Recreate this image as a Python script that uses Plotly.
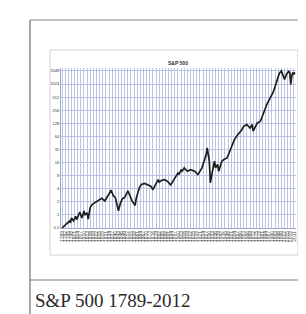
import plotly.graph_objects as go

years = [1789, 1792, 1794, 1796, 1797, 1798, 1800, 1802, 1803, 1805, 1806, 1808, 1810, 1811,
         1813, 1814, 1816, 1818, 1821, 1824, 1827, 1830, 1833, 1836, 1838, 1840, 1843, 1845,
         1847, 1849, 1852, 1854, 1856, 1859, 1860, 1863, 1865, 1868, 1871, 1874, 1876, 1878,
         1881, 1882, 1884, 1887, 1890, 1893, 1895, 1897, 1900, 1901, 1903, 1904, 1906, 1909,
         1912, 1916, 1919, 1920, 1923, 1927, 1928, 1930, 1931, 1933, 1935, 1936, 1938, 1939,
         1941, 1942, 1944, 1947, 1949, 1952, 1954, 1957, 1961, 1963, 1966, 1969, 1971, 1972,
         1974, 1976, 1979, 1982, 1985, 1988, 1991, 1993, 1995, 1997, 1999, 2001, 2002, 2004,
         2006, 2007, 2008, 2009, 2010, 2011, 2012]
sp500 = [0.50, 0.58, 0.62, 0.72, 0.66, 0.85, 0.73, 0.93, 0.78, 1.0, 1.17, 0.85, 1.23, 1.01,
         1.11, 0.80, 1.50, 1.75, 1.95, 2.2, 2.4, 2.1, 2.9, 3.7, 2.8, 2.5, 1.25, 1.9,
         2.4, 2.5, 3.6, 2.7, 2.1, 1.65, 2.4, 4.2, 5.0, 5.3, 5.0, 4.6, 3.8, 4.6,
         6.5, 5.7, 6.2, 6.5, 5.9, 4.9, 5.9, 7.1, 9.2, 8.5, 11.0, 10.1, 12.1, 10.1,
         11.0, 10.1, 8.5, 9.2, 12.1, 24.5, 34.8, 17.2, 5.5, 10.1, 17.2, 12.1, 14.4, 10.1,
         14.4, 17.2, 18.8, 20.5, 27, 42, 54, 69, 90, 110, 120, 100, 120, 85,
         110, 131, 143, 223, 347, 480, 650, 900, 1300, 1800, 2050, 1600, 1300, 1750,
         2000, 1850, 1000, 1600, 1900, 1750, 1900]

y_ticks = [0.5, 1, 2, 4, 8, 16, 32, 64, 128, 256, 512, 1024, 2048]
y_tick_labels = ["0.5", "1", "2", "4", "8", "16", "32", "64", "128", "256", "512", "1024", "2048"]
x_ticks = list(range(1789, 2013, 3))
x_tick_labels = [str(y) for y in x_ticks]

chart_title = "S&P 500"
caption = "S&P 500 1789-2012"

fig = go.Figure()
fig.add_trace(go.Scatter(x=years, y=sp500, mode="lines",
                         line=dict(color="#1e1e1e", width=1.7), showlegend=False,
                         hoverinfo="skip"))

fig.update_layout(
    width=306, height=314,
    margin=dict(l=53, r=18, t=60, b=94),
    paper_bgcolor="white", plot_bgcolor="white",
    xaxis=dict(range=[1788, 2013], tickmode="array", tickvals=x_ticks, ticktext=x_tick_labels,
               tickangle=-90, tickfont=dict(size=5, color="#555", family="Arial"),
               showgrid=True, gridcolor="#b9c5e2", gridwidth=1, zeroline=False,
               showline=True, linecolor="#9aa6c6", linewidth=1, ticks=""),
    yaxis=dict(type="log", range=[-0.30103, 3.38], tickmode="array", tickvals=y_ticks,
               ticktext=y_tick_labels, tickfont=dict(size=4, color="#333", family="Arial"),
               showgrid=True, gridcolor="#b9c5e2", gridwidth=1, zeroline=False,
               showline=True, linecolor="#9aa6c6", linewidth=1, ticks=""),
    annotations=[
        dict(text="<b>" + chart_title + "</b>", x=0.498, y=1.0625, xref="paper", yref="paper",
             showarrow=False, font=dict(size=5, color="#333", family="Arial")),
        dict(text=caption, x=-0.119, y=-0.456, xref="paper", yref="paper",
             xanchor="left", yanchor="middle", showarrow=False,
             font=dict(size=19, color="#2a2a2a", family="Liberation Serif")),
    ],
    shapes=[
        # outer frame
        dict(type="line", xref="paper", yref="paper", x0=-0.132, x1=1.08, y0=1.3, y1=1.3,
             line=dict(color="#8a8a8a", width=1.2)),
        dict(type="line", xref="paper", yref="paper", x0=-0.132, x1=-0.132, y0=1.3, y1=-0.6,
             line=dict(color="#6e6e6e", width=1.2)),
        dict(type="line", xref="paper", yref="paper", x0=-0.132, x1=1.08, y0=-0.325, y1=-0.325,
             line=dict(color="#7a7a7a", width=1.2)),
        # chart image box
        dict(type="rect", xref="paper", yref="paper", x0=-0.0468, x1=1.0085, y0=-0.169, y1=1.1125,
             line=dict(color="#d2d2d2", width=1)),
    ],
)

fig.write_html("out.html")
